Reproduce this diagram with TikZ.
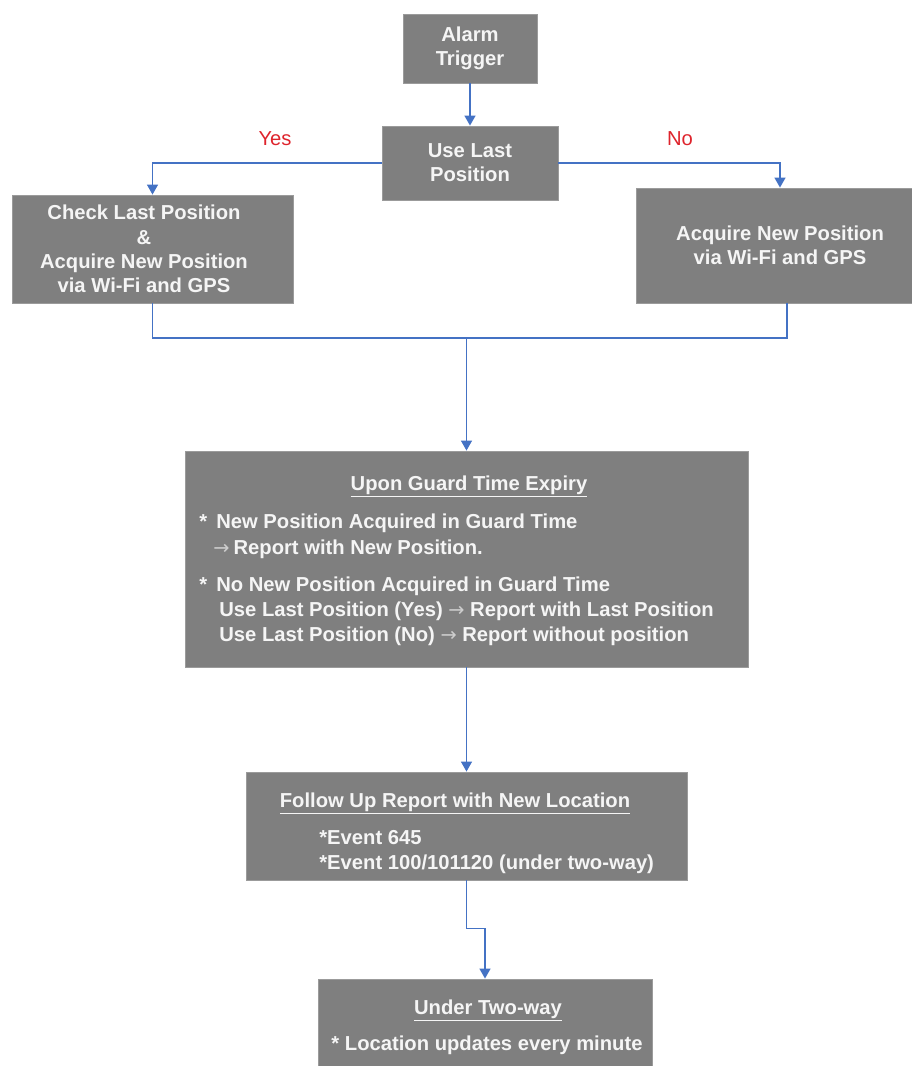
\documentclass[tikz,border=0pt]{standalone}
\usepackage{fontspec}
\setmainfont{Liberation Sans}
\newfontfamily\symfont{DejaVu Sans}
\usetikzlibrary{arrows.meta}

\definecolor{boxgray}{RGB}{127,127,127}
\definecolor{boxedge}{RGB}{155,155,155}
\definecolor{txtwhite}{RGB}{245,245,245}
\definecolor{flowblue}{RGB}{68,114,196}
\definecolor{answerred}{RGB}{222,36,44}
\definecolor{arrgray}{RGB}{205,205,205}

\newcommand{\flowfont}{\fontsize{11.5}{13.8}\selectfont\bfseries}
\newcommand{\answerfont}{\fontsize{11.5}{13.8}\selectfont}
\newcommand{\guardarrow}{{\symfont\mdseries\fontsize{11}{11}\selectfont\color{arrgray}→}}

\tikzset{
  box/.style={draw=boxedge, line width=0.5pt, fill=boxgray, inner sep=0pt,
              text=txtwhite, font=\flowfont, align=center},
  boxtext/.style={text=txtwhite, font=\flowfont, inner sep=0pt, anchor=base west},
  boxtitle/.style={text=txtwhite, font=\flowfont, inner sep=0pt, anchor=base},
  flow/.style={draw=flowblue, line width=0.8pt},
  flowarrow/.style={flow, -{Triangle[width=0.22cm,length=0.2cm]}},
  answer/.style={text=answerred, font=\answerfont, inner sep=0pt, anchor=base}
}

\begin{document}
\begin{tikzpicture}[x=0.02cm, y=-0.02cm]
    \useasboundingbox (0,0) rectangle (912,1066);

    % Decision part
    \node[box, minimum width=2.68cm, minimum height=1.38cm] (alarm) at (470,48.5) {Alarm\\Trigger};
    \node[box, minimum width=3.52cm, minimum height=1.48cm] (uselast) at (470,163) {Use Last\\Position};
    \node[box, minimum width=5.62cm, minimum height=2.16cm] (check) at (152.5,249) {};
    \node[text=txtwhite, font=\flowfont, align=center, inner sep=0pt] (checktext) at (144,249)
        {Check Last Position\\\&\\Acquire New Position\\via Wi-Fi and GPS};
    \node[box, minimum width=5.56cm, minimum height=2.3cm] (acquire) at (775,245.5)
        {\hspace{0.5em}Acquire New Position\\\hspace{0.5em}via Wi-Fi and GPS};

    % Yes / No
    \node[answer] (yes) at (275,145) {Yes};
    \node[answer] (no) at (680,145) {No};

    % Report boxes
    \node[box, minimum width=11.26cm, minimum height=4.32cm] (guard) at (466.5,559) {};
    \node[box, minimum width=8.82cm, minimum height=2.16cm] (follow) at (466.5,826) {};
    \node[box, minimum width=6.68cm, minimum height=1.78cm] (twoway) at (485,1023.5) {};

    % Guard time text
    \node[boxtitle] (gtitle) at (469,490) {\underline{Upon Guard Time Expiry}};
    \node[boxtext] (g1) at (199,528) {*\hspace{0.45em}New Position Acquired in Guard Time};
    \node[boxtext] (g2) at (213,554) {\guardarrow\hspace{0.2em}Report with New Position.};
    \node[boxtext] (g3) at (199,591) {*\hspace{0.45em}No New Position Acquired in Guard Time};
    \node[boxtext] (g4) at (219,616) {Use Last Position (Yes) \guardarrow\ Report with Last Position};
    \node[boxtext] (g5) at (219,641) {Use Last Position (No) \guardarrow\ Report without position};

    % Follow up text
    \node[boxtitle] (ftitle) at (455,807) {\underline{Follow Up Report with New Location}};
    \node[boxtext] (f1) at (319,844) {*Event 645};
    \node[boxtext] (f2) at (319,869) {*Event 100/101120 (under two-way)};

    % Two-way text
    \node[boxtitle] (ttitle) at (488,1014) {\underline{Under Two-way}};
    \node[boxtitle] (t1) at (487,1050) {* Location updates every minute};

    % Connectors
    \coordinate (merge) at (466.5,338);
    \draw[flowarrow] (alarm) -- (uselast);
    \draw[flowarrow] (uselast.west) -| (check.north);
    \draw[flowarrow] (uselast.east) -| ([xshift=0.1cm]acquire.north);
    \draw[flow] (check.south) |- (merge) -| ([xshift=0.24cm]acquire.south);
    \draw[flowarrow] (merge) -- (guard.north);
    \draw[flowarrow] (guard.south) -- (follow.north);
    \draw[flowarrow] (follow.south) -- ++(0,48) -| (twoway.north);
\end{tikzpicture}
\end{document}
